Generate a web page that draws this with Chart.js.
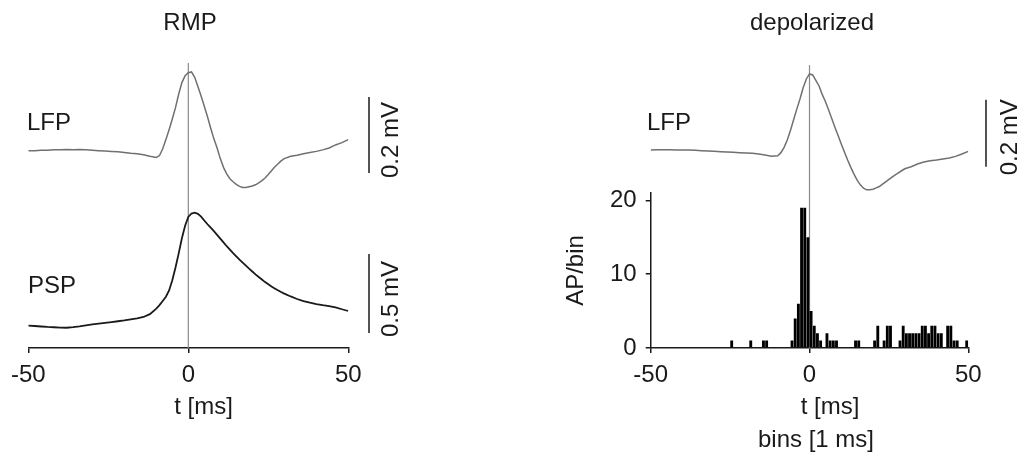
<!DOCTYPE html>
<html>
<head>
<meta charset="utf-8">
<title>LFP / PSP / spike histogram</title>
<script src="https://cdn.jsdelivr.net/npm/chart.js@4.4.1/dist/chart.umd.min.js"></script>
<style>
  html, body { margin: 0; padding: 0; background: #fff; }
  #wrap { position: relative; width: 1021px; height: 455px; overflow: hidden; }
  #left { position: absolute; left: 0; top: 0; }
  #right { position: absolute; left: 510px; top: 0; }
</style>
</head>
<body>
<div id="wrap">
  <canvas id="left" width="510" height="455"></canvas>
  <canvas id="right" width="511" height="455"></canvas>
</div>
<script>
// ---- data -------------------------------------------------------------
// sample times (ms) of the averaged traces
const timeMs = [
  -50, -48, -46, -44, -42, -40, -38, -36, -34, -32, -30, -28, -26, -24, -22, -20, -18, -16, -14, -12, -10,
  -9, -8, -7, -6, -5, -4, -3, -2, -1, 0, 1, 2, 3, 4, 5, 6, 7, 8, 9, 10,
  11, 12, 13, 14, 15, 16, 17, 18, 19, 20, 21, 22, 23, 24, 25, 26, 27, 28, 29, 30,
  32, 34, 36, 38, 40, 42, 44, 46, 48, 50
];

// LFP at resting membrane potential (mV, relative to baseline)
const lfpRmp = [
  0.001, 0.001, 0.002, 0.002, 0.003, 0.003, 0.004, 0.003, 0.004, 0.003, 0.002, 0.001, 0.000, -0.001, -0.002, -0.004, -0.006, -0.007, -0.010, -0.014, -0.017,
  -0.012, 0.006, 0.030, 0.056, 0.084, 0.114, 0.150, 0.180, 0.198, 0.206, 0.208, 0.194, 0.170, 0.145, 0.118, 0.090, 0.060, 0.032, 0.008, -0.020,
  -0.043, -0.060, -0.073, -0.081, -0.088, -0.093, -0.096, -0.096, -0.094, -0.092, -0.089, -0.084, -0.078, -0.071, -0.062, -0.052, -0.042, -0.034, -0.026, -0.020,
  -0.014, -0.011, -0.007, -0.004, -0.001, 0.003, 0.008, 0.016, 0.022, 0.030
];

// postsynaptic potential at resting membrane potential (mV)
const pspRmp = [
  0.002, 0.000, -0.003, -0.006, -0.008, -0.010, -0.011, -0.007, -0.002, 0.004, 0.010, 0.015, 0.020, 0.025, 0.030, 0.035, 0.042, 0.048, 0.057, 0.075, 0.110,
  0.132, 0.158, 0.185, 0.225, 0.290, 0.370, 0.460, 0.555, 0.635, 0.690, 0.712, 0.717, 0.710, 0.692, 0.668, 0.644, 0.622, 0.600, 0.577, 0.553,
  0.529, 0.505, 0.484, 0.462, 0.441, 0.420, 0.401, 0.382, 0.363, 0.345, 0.327, 0.310, 0.294, 0.278, 0.264, 0.250, 0.238, 0.226, 0.215, 0.205,
  0.187, 0.171, 0.158, 0.148, 0.139, 0.132, 0.126, 0.118, 0.106, 0.095
];

// LFP while the cell is depolarized (mV)
const lfpDepol = [
  0.000, 0.001, 0.001, 0.001, 0.000, 0.000, 0.000, -0.001, -0.002, -0.003, -0.004, -0.005, -0.006, -0.007, -0.008, -0.009, -0.010, -0.012, -0.015, -0.019, -0.017,
  -0.008, 0.008, 0.030, 0.058, 0.090, 0.122, 0.152, 0.186, 0.212, 0.227, 0.224, 0.208, 0.191, 0.166, 0.145, 0.120, 0.094, 0.068, 0.043, 0.018,
  -0.006, -0.030, -0.052, -0.072, -0.090, -0.104, -0.114, -0.119, -0.119, -0.117, -0.113, -0.109, -0.102, -0.095, -0.088, -0.081, -0.074, -0.068, -0.062, -0.056,
  -0.050, -0.042, -0.036, -0.032, -0.030, -0.027, -0.024, -0.019, -0.012, -0.004
];

// action potentials per 1 ms bin (left edge of each non-empty bin, ms)
const spikeBinStart = [-25, -19, -15, -14, -6, -5, -4, -3, -2, -1, 0, 1, 2, 3, 5, 6, 7, 8, 14, 15,
  20, 21, 23, 24, 25, 28, 29, 30, 31, 32, 33, 34, 35, 36, 37, 38, 39, 40, 41, 43, 44, 45, 46, 49];
const spikeCounts   = [1, 1, 1, 1, 1, 4, 6, 19, 19, 15, 5, 3, 2, 1, 2, 1, 1, 1, 1, 1,
  1, 3, 1, 3, 3, 1, 3, 2, 2, 2, 2, 2, 3, 3, 2, 3, 3, 2, 2, 3, 3, 1, 1, 1];
const binWidthMs = 1;

// tick labels
const timeTicks = [-50, 0, 50];
const histTicks = [0, 10, 20];

// ---- styling ----------------------------------------------------------
const FONT = "'Liberation Sans', Arial, Helvetica, sans-serif";
const INK = '#1a1a1a';
const GREY_TRACE = '#707070';
Chart.defaults.font.family = FONT;
Chart.defaults.font.size = 24;
Chart.defaults.color = INK;

const pts = (ys) => timeMs.map((t, i) => ({ x: t, y: ys[i] }));

// vertical reference line at t = 0
const zeroLine = {
  id: 'zeroLine',
  beforeDatasetsDraw(chart, args, opts) {
    const { ctx, chartArea } = chart;
    const x = chart.scales.x.getPixelForValue(0);
    ctx.save();
    ctx.strokeStyle = opts.color;
    ctx.lineWidth = opts.width;
    ctx.beginPath();
    ctx.moveTo(x, chartArea.top);
    ctx.lineTo(x, chartArea.bottom);
    ctx.stroke();
    ctx.restore();
  }
};

// amplitude scale bars, sized through the trace's own y scale
const scaleBars = {
  id: 'scaleBars',
  afterDraw(chart, args, opts) {
    const { ctx, chartArea } = chart;
    (opts.bars || []).forEach((b) => {
      const sc = chart.scales[b.axis];
      const y0 = sc.getPixelForValue(b.from);
      const y1 = sc.getPixelForValue(b.from + b.size);
      const x = chartArea.right + b.dx;
      ctx.save();
      ctx.strokeStyle = INK;
      ctx.lineWidth = 1.5;
      ctx.beginPath();
      ctx.moveTo(x, y0);
      ctx.lineTo(x, y1);
      ctx.stroke();
      ctx.translate(x + b.textDx, (y0 + y1) / 2 + b.textDy);
      ctx.rotate(-Math.PI / 2);
      ctx.font = '24px ' + FONT;
      ctx.fillStyle = INK;
      ctx.textAlign = 'center';
      ctx.textBaseline = 'alphabetic';
      ctx.fillText(b.size + ' mV', 0, 0);
      ctx.restore();
    });
  }
};

// panel titles, trace names and axis captions
const panelText = {
  id: 'panelText',
  afterDraw(chart, args, opts) {
    const { ctx } = chart;
    ctx.save();
    ctx.font = '24px ' + FONT;
    ctx.fillStyle = INK;
    ctx.textBaseline = 'alphabetic';
    (opts.items || []).forEach((it) => {
      ctx.textAlign = it.align || 'center';
      ctx.fillText(it.text, it.x, it.y);
    });
    ctx.restore();
  }
};

const timeAxis = () => ({
  type: 'linear',
  min: -50,
  max: 50,
  offset: false,
  afterBuildTicks: (s) => { s.ticks = timeTicks.map((v) => ({ value: v })); },
  afterFit: (s) => { s.height = 50; },
  grid: { display: true, drawOnChartArea: false, drawTicks: true, tickLength: 5, offset: false, color: INK, lineWidth: 1.5 },
  border: { display: true, color: INK, width: 1.5 },
  ticks: { padding: 8, maxRotation: 0, autoSkip: false, color: INK, font: { size: 24 } }
});

// ---- left panel: RMP --------------------------------------------------
new Chart(document.getElementById('left'), {
  type: 'line',
  data: {
    datasets: [
      { label: 'LFP', data: pts(lfpRmp), yAxisID: 'yLfp', borderColor: GREY_TRACE, borderWidth: 1.5, pointRadius: 0, tension: 0 },
      { label: 'PSP', data: pts(pspRmp), yAxisID: 'yPsp', borderColor: INK, borderWidth: 1.8, pointRadius: 0, tension: 0 }
    ]
  },
  options: {
    responsive: false,
    animation: false,
    events: [],
    layout: { padding: { left: 28.3, right: 161.7, top: 63, bottom: 57 } },
    plugins: {
      legend: { display: false },
      tooltip: { enabled: false },
      zeroLine: { color: '#8a8a8a', width: 1.2 },
      scaleBars: {
        bars: [
          { axis: 'yLfp', from: -0.058, size: 0.2, dx: 20.7, textDx: 29, textDy: 5 },
          { axis: 'yPsp', from: -0.044, size: 0.5, dx: 20.7, textDx: 29, textDy: 5.5 }
        ]
      },
      panelText: {
        items: [
          { text: 'RMP', x: 190, y: 30 },
          { text: 'LFP', x: 27, y: 130, align: 'left' },
          { text: 'PSP', x: 28, y: 293, align: 'left' },
          { text: 't [ms]', x: 203.5, y: 413.5 }
        ]
      }
    },
    scales: {
      x: timeAxis(),
      yLfp: { type: 'linear', display: false, min: -0.5184, max: 0.2316 },
      yPsp: { type: 'linear', display: false, min: -0.1392, max: 1.6646 }
    }
  },
  plugins: [zeroLine, scaleBars, panelText]
});

// ---- right panel: depolarized ----------------------------------------
new Chart(document.getElementById('right'), {
  type: 'bar',
  data: {
    datasets: [
      { type: 'line', label: 'LFP', data: pts(lfpDepol), yAxisID: 'yTrace', borderColor: GREY_TRACE, borderWidth: 1.5, pointRadius: 0, tension: 0 },
      {
        type: 'bar', label: 'AP/bin',
        data: spikeBinStart.map((b, i) => ({ x: b + binWidthMs / 2, y: spikeCounts[i] })),
        yAxisID: 'yHist', backgroundColor: '#000', borderWidth: 0,
        barPercentage: 0.9, categoryPercentage: 1
      }
    ]
  },
  options: {
    responsive: false,
    animation: false,
    events: [],
    layout: { padding: { left: 50.7, right: 52.7, top: 65, bottom: 57 } },
    plugins: {
      legend: { display: false },
      tooltip: { enabled: false },
      zeroLine: { color: '#8a8a8a', width: 1.2 },
      scaleBars: {
        bars: [ { axis: 'yTrace', from: -0.050, size: 0.2, dx: 17.7, textDx: 31, textDy: 4 } ]
      },
      panelText: {
        items: [
          { text: 'depolarized', x: 302, y: 30 },
          { text: 'LFP', x: 137, y: 130, align: 'left' },
          { text: 't [ms]', x: 320, y: 413.5 },
          { text: 'bins [1 ms]', x: 306, y: 446.5 }
        ]
      }
    },
    scales: {
      x: timeAxis(),
      yHist: {
        type: 'linear', position: 'left', stack: 'panel', stackWeight: 155,
        min: 0, max: 21,
        afterBuildTicks: (s) => { s.ticks = histTicks.map((v) => ({ value: v })); },
        afterFit: (s) => { s.width = 90; },
        grid: { display: true, drawOnChartArea: false, drawTicks: true, tickLength: 5, color: INK, lineWidth: 1.5 },
        border: { display: true, color: INK, width: 1.5 },
        ticks: { padding: 9, color: INK, font: { size: 24 } },
        title: { display: true, text: 'AP/bin', color: INK, font: { size: 24 }, padding: { top: 1, bottom: 0 } }
      },
      yTrace: { type: 'linear', position: 'left', stack: 'panel', stackWeight: 128, display: false, min: -0.1284, max: 0.2537 }
    }
  },
  plugins: [zeroLine, scaleBars, panelText]
});
</script>
</body>
</html>
